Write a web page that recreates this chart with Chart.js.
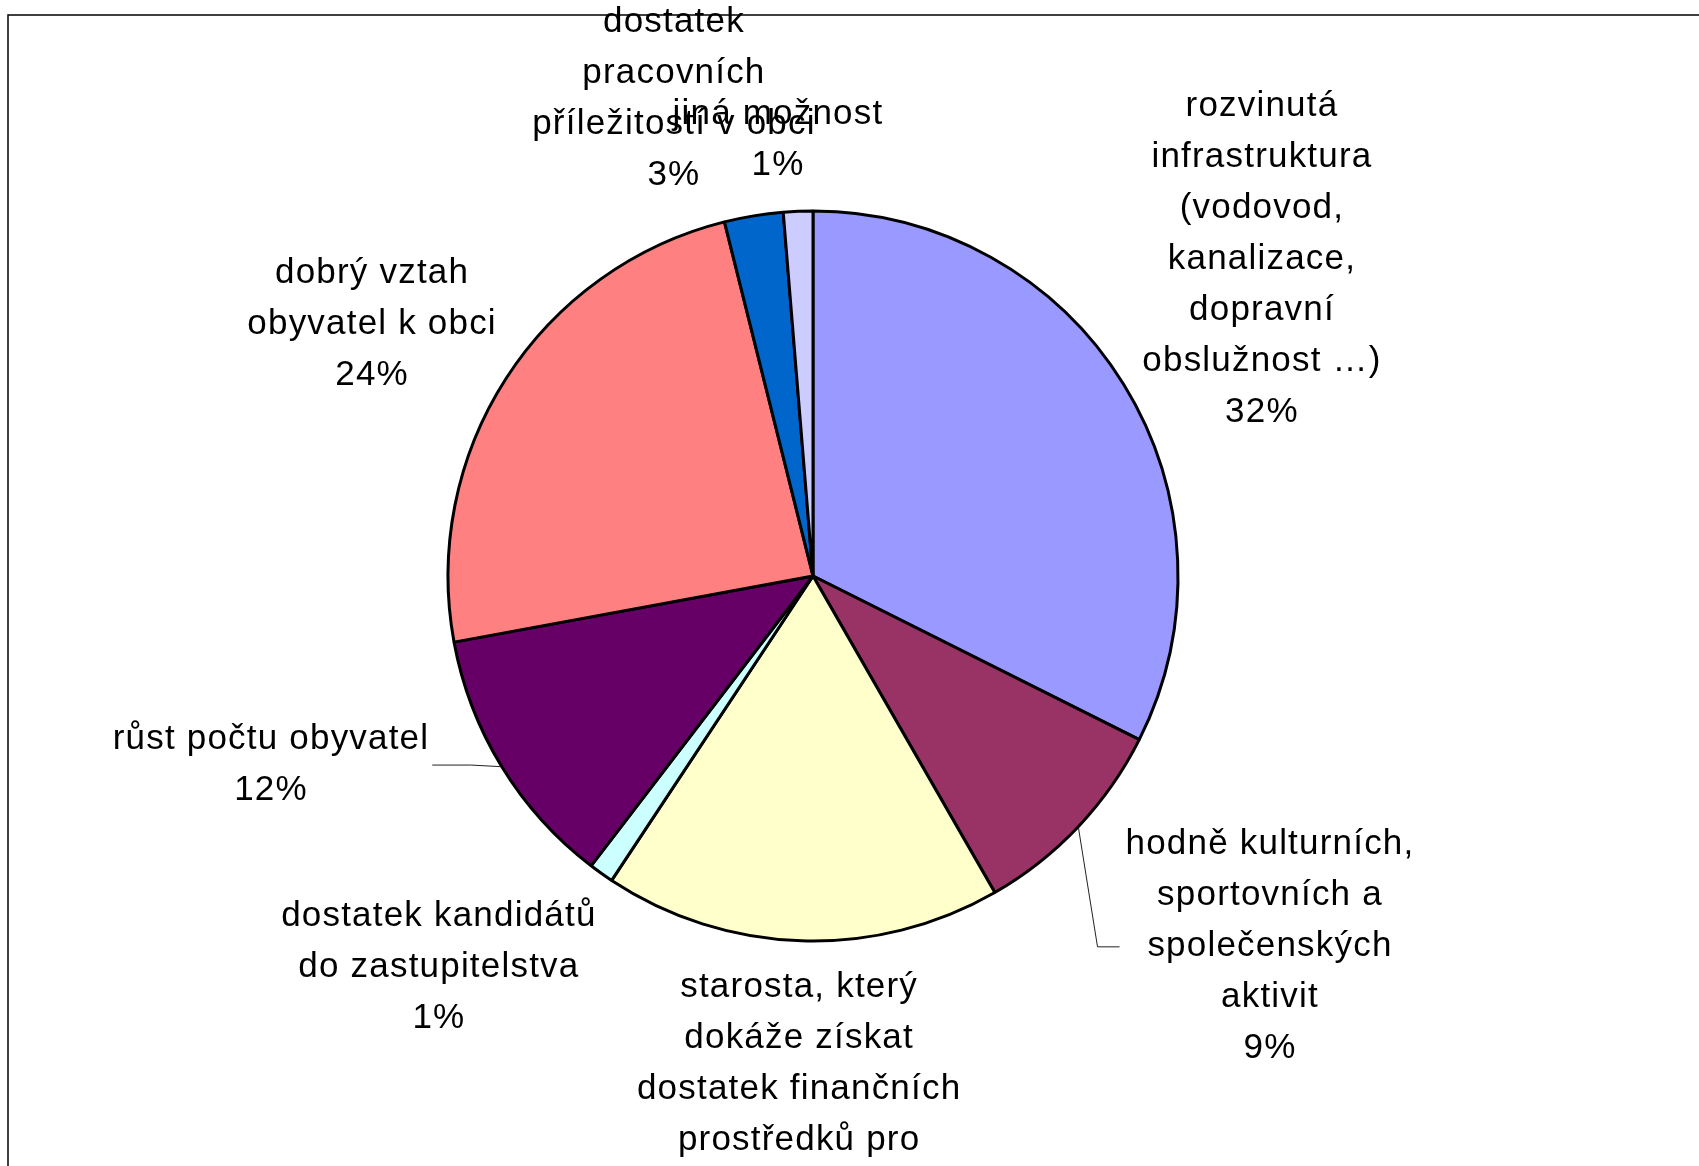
<!DOCTYPE html>
<html>
<head>
<meta charset="utf-8">
<script src="https://cdn.jsdelivr.net/npm/chart.js@4/dist/chart.umd.min.js"></script>
<style>
  html, body { margin: 0; padding: 0; background: #fff; }
  canvas { display: block; }
</style>
</head>
<body>
<canvas id="chart" width="1699" height="1166"></canvas>
<script>
// categories (label lines as shown on the chart), clockwise from 12 o'clock
const categories = [
  ["rozvinutá", "infrastruktura", "(vodovod,", "kanalizace,", "dopravní", "obslužnost …)"],
  ["hodně kulturních,", "sportovních a", "společenských", "aktivit"],
  ["starosta, který", "dokáže získat", "dostatek finančních", "prostředků pro", "obec"],
  ["dostatek kandidátů", "do zastupitelstva"],
  ["růst počtu obyvatel"],
  ["dobrý vztah", "obyvatel k obci"],
  ["dostatek", "pracovních", "příležitostí v obci"],
  ["jiná možnost"],
];
const shares = [32.4, 9.3, 17.6, 1.1, 11.7, 24.0, 2.6, 1.3];
const sliceColors = ["#9999FF", "#993366", "#FFFFCC", "#CCFFFF", "#660066", "#FF8080", "#0066CC", "#CCCCFF"];

// label block centres relative to the pie centre, in pie radii
const labelPlacement = [
  { dx: 1.23, dy: -0.868 },
  { dx: 1.252, dy: 1.016, leader: "left", elbow: 22 },
  { dx: -0.038, dy: 1.475 },
  { dx: -1.025, dy: 1.073 },
  { dx: -1.485, dy: 0.518, leader: "right", elbow: 39 },
  { dx: -1.208, dy: -0.69 },
  { dx: -0.381, dy: -1.308 },
  { dx: -0.096, dy: -1.195 },
];

const FONT = '35px "Liberation Sans", Arial, sans-serif';
const LINE_H = 51;

const framePlugin = {
  id: "frame",
  beforeDraw(chart) {
    const ctx = chart.ctx;
    ctx.save();
    ctx.fillStyle = "#fff";
    ctx.fillRect(0, 0, chart.width, chart.height);
    ctx.strokeStyle = "#000";
    ctx.lineWidth = 1.5;
    ctx.beginPath();
    ctx.moveTo(chart.width + 2, 15);
    ctx.lineTo(8, 15);
    ctx.lineTo(8, chart.height + 2);
    ctx.stroke();
    ctx.restore();
  },
};

const labelPlugin = {
  id: "sliceLabels",
  afterDatasetsDraw(chart) {
    const ctx = chart.ctx;
    const meta = chart.getDatasetMeta(0);
    const total = shares.reduce((a, b) => a + b, 0);
    ctx.save();
    ctx.font = FONT;
    ctx.letterSpacing = "1.2px";
    ctx.fillStyle = "#000";
    ctx.textAlign = "center";
    ctx.textBaseline = "middle";
    meta.data.forEach((arc, i) => {
      const { x: cx, y: cy, outerRadius: r, startAngle, endAngle } = arc.getProps(
        ["x", "y", "outerRadius", "startAngle", "endAngle"], true);
      const p = labelPlacement[i];
      const lines = categories[i].concat([Math.round(shares[i] / total * 100) + "%"]);
      const lx = cx + p.dx * r;
      const ly = cy + p.dy * r;
      const top = ly - (lines.length - 1) * LINE_H / 2;
      lines.forEach((t, k) => ctx.fillText(t, lx, top + k * LINE_H));

      if (p.leader) {
        const mid = (startAngle + endAngle) / 2;
        const ax = cx + Math.cos(mid) * r;
        const ay = cy + Math.sin(mid) * r;
        const half = Math.max(...lines.map(t => ctx.measureText(t).width)) / 2;
        const edge = p.leader === "left" ? lx - half - 6 : lx + half + 3;
        const ex = p.leader === "left" ? edge - p.elbow : edge + p.elbow;
        ctx.save();
        ctx.strokeStyle = "#222";
        ctx.lineWidth = 1;
        ctx.beginPath();
        ctx.moveTo(ax, ay);
        ctx.lineTo(ex, ly);
        ctx.lineTo(edge, ly);
        ctx.stroke();
        ctx.restore();
      }
    });
    ctx.restore();
  },
};

new Chart(document.getElementById("chart"), {
  type: "pie",
  data: {
    labels: categories,
    datasets: [{
      data: shares,
      backgroundColor: sliceColors,
      borderColor: "#000",
      borderWidth: 3,
      radius: 365,
    }],
  },
  options: {
    responsive: false,
    animation: false,
    layout: { padding: { left: 300, right: 373, top: 211, bottom: 225 } },
    plugins: {
      legend: { display: false },
      tooltip: { enabled: false },
    },
  },
  plugins: [framePlugin, labelPlugin],
});
</script>
</body>
</html>
